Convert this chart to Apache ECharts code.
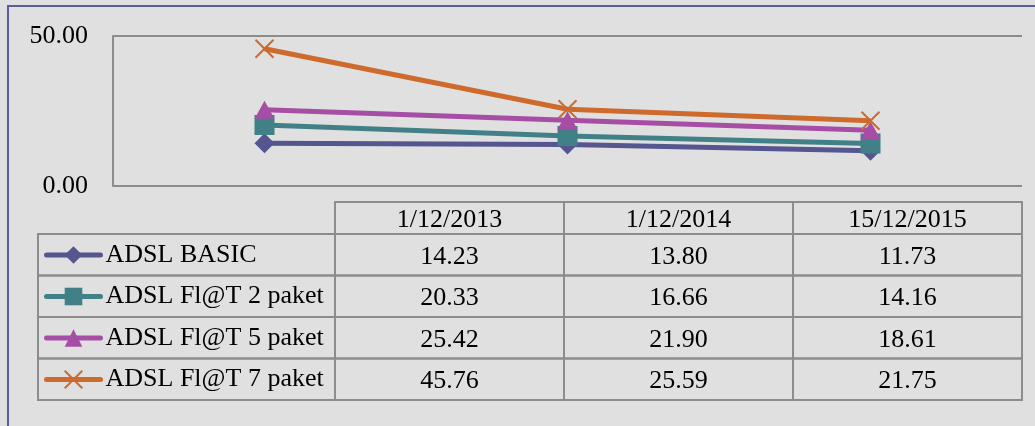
<!DOCTYPE html>
<html>
<head>
<meta charset="utf-8">
<script src="https://cdn.jsdelivr.net/npm/echarts@6/dist/echarts.min.js"></script>
<style>
html, body { margin: 0; padding: 0; background: #e0e0e0; }
#chart { width: 1035px; height: 426px; }
</style>
</head>
<body>
<div id="chart"></div>
<script>
// data
var dates = ['1/12/2013', '1/12/2014', '15/12/2015'];
var names = ['ADSL BASIC', 'ADSL Fl@T 2 paket', 'ADSL Fl@T 5 paket', 'ADSL Fl@T 7 paket'];
var basic = [14.23, 13.80, 11.73];
var flat2 = [20.33, 16.66, 14.16];
var flat5 = [25.42, 21.90, 18.61];
var flat7 = [45.76, 25.59, 21.75];
var yMin = 0, yMax = 50, yStep = 50;

var colors = ['#55558f', '#428088', '#a64ea6', '#cf6a2d'];
var symbols = ['diamond', 'rect', 'triangle', 'path://M0,0L10,10M10,0L0,10'];
var fontName = '"Liberation Serif", serif';
var gridColor = '#8c8c8c';

var myChart = echarts.init(document.getElementById('chart'));
var allData = [basic, flat2, flat5, flat7];

// table cells [col, row]
var cellData = [], cellText = [];
for (var r = 0; r < allData.length; r++) {
    for (var c = 0; c < dates.length; c++) {
        cellData.push([c, r]);
        cellText.push(allData[r][c].toFixed(2));
    }
}
var headData = dates.map(function (d, i) { return [i, 0]; });
var nameData = names.map(function (n, i) { return [0, i]; });

function cellGroup(x, y, w, h, text) {
    var kids = [{
        type: 'rect',
        shape: { x: x, y: y, width: w, height: h },
        style: { fill: 'none', stroke: gridColor, lineWidth: 2 }
    }];
    if (text) {
        kids.push({
            type: 'text',
            x: x + w / 2, y: y + h / 2 + 2,
            style: { text: text, font: '26px ' + fontName, fill: '#000', align: 'center', verticalAlign: 'middle' }
        });
    }
    return { type: 'group', children: kids };
}

var series = names.map(function (n, i) {
    var isCross = i === 3;
    return {
        name: n,
        type: 'line',
        xAxisIndex: 0,
        yAxisIndex: 0,
        data: allData[i],
        symbol: symbols[i],
        symbolSize: isCross ? 18 : (i === 2 ? [20, 18] : 20),
        lineStyle: { width: 5, color: colors[i] },
        itemStyle: { color: colors[i], borderColor: colors[i], borderWidth: isCross ? 2 : 0 },
        emphasis: { disabled: true },
        z: 3 + i
    };
});

// value cells
series.push({
    type: 'custom',
    xAxisIndex: 1,
    yAxisIndex: 1,
    data: cellData,
    silent: true,
    renderItem: function (params, api) {
        var p = api.coord([api.value(0), api.value(1)]);
        var s = api.size([1, 1]);
        return cellGroup(p[0] - s[0] / 2, p[1] - s[1] / 2, s[0], s[1], cellText[params.dataIndex]);
    }
});
// header cells
series.push({
    type: 'custom',
    xAxisIndex: 1,
    yAxisIndex: 1,
    data: headData,
    silent: true,
    renderItem: function (params, api) {
        var p = api.coord([api.value(0), 0]);
        var s = api.size([1, 1]);
        var top = params.coordSys.y;
        return cellGroup(p[0] - s[0] / 2, top - 32, s[0], 32, dates[params.dataIndex]);
    }
});
// legend column cells
series.push({
    type: 'custom',
    xAxisIndex: 1,
    yAxisIndex: 1,
    data: nameData,
    silent: true,
    renderItem: function (params, api) {
        var p = api.coord([0, api.value(1)]);
        var s = api.size([1, 1]);
        var left = 38;
        return cellGroup(left, p[1] - s[1] / 2, params.coordSys.x - left, s[1], null);
    }
});

var option = {
    backgroundColor: '#e0e0e0',
    animation: false,
    graphic: [{
        type: 'rect',
        shape: { x: 8, y: 6, width: 1200, height: 600 },
        style: { fill: 'none', stroke: '#5c5c9c', lineWidth: 2 },
        z: 0
    }],
    legend: {
        data: names,
        orient: 'vertical',
        left: 44,
        top: 242,
        padding: 0,
        itemWidth: 54,
        itemHeight: 22,
        itemGap: 15.5,
        selectedMode: false,
        lineStyle: { width: 5, cap: 'round' },
        textStyle: { fontFamily: fontName, fontSize: 26, color: '#000' }
    },
    grid: [
        { left: 113, right: 13, top: 36, height: 150 },
        { left: 335, right: 13, top: 234, bottom: 26 }
    ],
    xAxis: [{
        type: 'category',
        gridIndex: 0,
        data: dates,
        axisLine: { show: false },
        axisTick: { show: false },
        axisLabel: { show: false }
    }, {
        type: 'category',
        gridIndex: 1,
        data: dates,
        show: false
    }],
    yAxis: [{
        type: 'value',
        gridIndex: 0,
        min: yMin,
        max: yMax,
        interval: yStep,
        axisLine: { show: true, lineStyle: { color: gridColor, width: 2 } },
        axisTick: { show: false },
        splitLine: { lineStyle: { color: gridColor, width: 2 } },
        axisLabel: {
            margin: 25,
            fontFamily: fontName,
            fontSize: 26,
            color: '#000',
            padding: [8, 0, 0, 0],
            formatter: function (v) { return v.toFixed(2); }
        }
    }, {
        type: 'category',
        gridIndex: 1,
        data: names,
        inverse: true,
        show: false
    }],
    series: series
};
myChart.setOption(option);
</script>
</body>
</html>
